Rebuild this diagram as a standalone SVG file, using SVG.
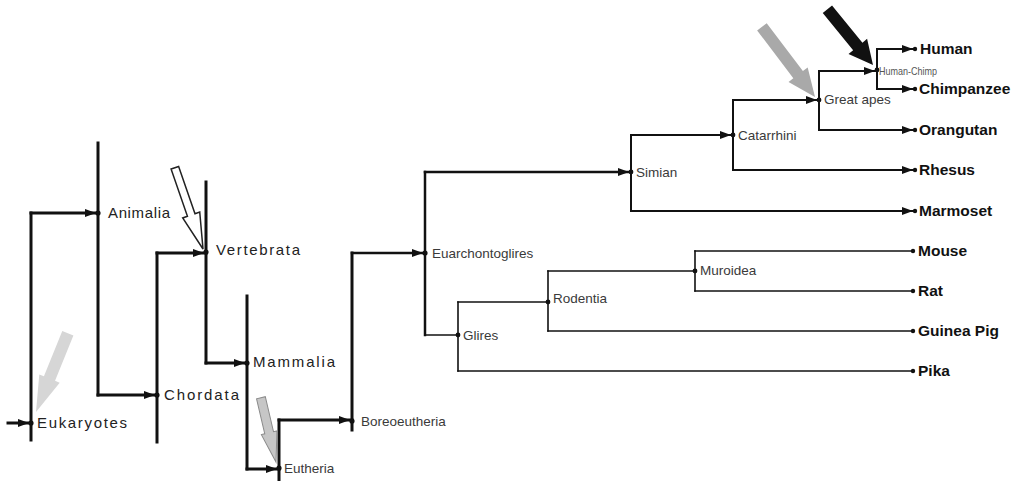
<svg xmlns="http://www.w3.org/2000/svg" width="1019" height="481" viewBox="0 0 1019 481">
<defs>
<marker id="ah" markerUnits="userSpaceOnUse" markerWidth="11" markerHeight="8" viewBox="0 0 11 8" refX="13" refY="4" orient="auto"><path d="M0,0 L11,4 L0,8 z" fill="#111"/></marker>
<style>
.c{fill:none;stroke:#111;stroke-linecap:square}
.w3{stroke-width:3}
.w25{stroke-width:2.5}
.w2{stroke-width:2}
.w15{stroke-width:1.6}
.a{marker-end:url(#ah)}
.dot{fill:#111}
.lt{font-family:"Liberation Sans",Arial,sans-serif;font-size:15px;fill:#222}
.rt{font-family:"Liberation Sans",Arial,sans-serif;font-size:13.5px;fill:#3a3a3a}
.lf{font-family:"Liberation Sans",Arial,sans-serif;font-size:15.5px;font-weight:bold;fill:#111}
</style>
</defs>
<rect width="1019" height="481" fill="#fff"/>

<g id="connectors">
<path class="c w3 a" d="M8,423 H31"/>
<path class="c w3" d="M31,213 V440"/>
<path class="c w3" d="M98,143 V395"/>
<path class="c w3" d="M157,253 V442"/>
<path class="c w3" d="M206,182 V363"/>
<path class="c w3" d="M247,296 V469"/>
<path class="c w3" d="M279,420 V481"/>
<path class="c w3" d="M352,253 V430"/>
<path class="c w25" d="M425,172 V335"/>
<path class="c w15" d="M458,302 V371"/>
<path class="c w15" d="M548,271 V331"/>
<path class="c w15" d="M695,251 V291"/>
<path class="c w2" d="M631,135 V211"/>
<path class="c w2" d="M733,100 V170"/>
<path class="c w2" d="M819,71 V130"/>
<path class="c w2" d="M877,49 V89"/>

<path class="c w3 a" d="M31,213 H98"/>
<path class="c w3 a" d="M98,395 H157"/>
<path class="c w3 a" d="M157,253 H206"/>
<path class="c w3 a" d="M206,363 H247"/>
<path class="c w3 a" d="M247,469 H279"/>
<path class="c w3 a" d="M279,420 H352"/>
<path class="c w25 a" d="M352,253 H425"/>
<path class="c w25 a" d="M425,172 H631"/>
<path class="c w15" d="M425,335 H458"/>
<path class="c w15" d="M458,302 H548"/>
<path class="c w15" d="M458,371 H913"/>
<path class="c w15" d="M548,271 H695"/>
<path class="c w15" d="M548,331 H913"/>
<path class="c w15" d="M695,251 H913"/>
<path class="c w15" d="M695,291 H913"/>
<path class="c w2 a" d="M631,135 H733"/>
<path class="c w2 a" d="M631,211 H915"/>
<path class="c w2 a" d="M733,100 H819"/>
<path class="c w2 a" d="M733,170 H915"/>
<path class="c w2 a" d="M819,71 H877"/>
<path class="c w2 a" d="M819,130 H915"/>
<path class="c w2 a" d="M877,49 H915"/>
<path class="c w2 a" d="M877,89 H915"/>
</g>

<g id="n-eukaryotes"><circle class="dot" cx="31" cy="423" r="2.6"/><text class="lt" x="37" y="428" textLength="90">Eukaryotes</text></g>
<g id="n-animalia"><circle class="dot" cx="98" cy="213" r="2.6"/><text class="lt" x="108" y="218" textLength="62">Animalia</text></g>
<g id="n-chordata"><circle class="dot" cx="157" cy="395" r="2.6"/><text class="lt" x="164" y="400" textLength="75">Chordata</text></g>
<g id="n-vertebrata"><circle class="dot" cx="206" cy="252" r="2.6"/><text class="lt" x="216" y="255" textLength="84">Vertebrata</text></g>
<g id="n-mammalia"><circle class="dot" cx="247" cy="363" r="2.6"/><text class="lt" x="253" y="367" textLength="82">Mammalia</text></g>
<g id="n-eutheria"><circle class="dot" cx="279" cy="468" r="2.6"/><text class="rt" x="284" y="473">Eutheria</text></g>
<g id="n-boreoeutheria"><circle class="dot" cx="352" cy="421" r="2.6"/><text class="rt" x="361" y="426">Boreoeutheria</text></g>
<g id="n-euarchontoglires"><circle class="dot" cx="425" cy="253" r="2.6"/><text class="rt" x="432" y="258">Euarchontoglires</text></g>
<g id="n-glires"><circle class="dot" cx="458" cy="335" r="2.4"/><text class="rt" x="463" y="340">Glires</text></g>
<g id="n-rodentia"><circle class="dot" cx="548" cy="302" r="2.4"/><text class="rt" x="553" y="303">Rodentia</text></g>
<g id="n-muroidea"><circle class="dot" cx="695" cy="271" r="2.4"/><text class="rt" x="700" y="275">Muroidea</text></g>
<g id="n-simian"><circle class="dot" cx="631" cy="172" r="2.4"/><text class="rt" x="636" y="177">Simian</text></g>
<g id="n-catarrhini"><circle class="dot" cx="733" cy="135" r="2.4"/><text class="rt" x="738" y="140">Catarrhini</text></g>
<g id="n-greatapes"><circle class="dot" cx="819" cy="100" r="2.4"/><text class="rt" x="824" y="104">Great apes</text></g>
<g id="n-humanchimp"><circle class="dot" cx="877" cy="70" r="2.4"/><text class="rt" x="879" y="75" style="font-size:11.5px;fill:#555" textLength="58" lengthAdjust="spacingAndGlyphs">Human-Chimp</text></g>

<g id="n-human"><circle class="dot" cx="915" cy="49" r="2.2"/><text class="lf" x="920" y="54">Human</text></g>
<g id="n-chimpanzee"><circle class="dot" cx="915" cy="89" r="2.2"/><text class="lf" x="919" y="94">Chimpanzee</text></g>
<g id="n-orangutan"><circle class="dot" cx="915" cy="130" r="2.2"/><text class="lf" x="919" y="135">Orangutan</text></g>
<g id="n-rhesus"><circle class="dot" cx="915" cy="170" r="2.2"/><text class="lf" x="919" y="175">Rhesus</text></g>
<g id="n-marmoset"><circle class="dot" cx="915" cy="211" r="2.2"/><text class="lf" x="919" y="216">Marmoset</text></g>
<g id="n-mouse"><circle class="dot" cx="913" cy="251" r="2.2"/><text class="lf" x="918" y="256">Mouse</text></g>
<g id="n-rat"><circle class="dot" cx="913" cy="291" r="2.2"/><text class="lf" x="918" y="296">Rat</text></g>
<g id="n-guineapig"><circle class="dot" cx="913" cy="331" r="2.2"/><text class="lf" x="918" y="336">Guinea Pig</text></g>
<g id="n-pika"><circle class="dot" cx="913" cy="371" r="2.2"/><text class="lf" x="918" y="376">Pika</text></g>

<g id="highlights">
<polygon points="-72,-6 -24,-6 -24,-12 0,0 -24,12 -24,6 -72,6" fill="#111" transform="translate(873,65) rotate(50.7)"/>
<polygon points="-88,-6 -28,-6 -28,-12 0,0 -28,12 -28,6 -88,6" fill="#a9a9a9" transform="translate(815,97) rotate(52.9)"/>
<polygon points="-86,-4 -36,-4 -36,-9 0,0 -36,9 -36,4 -86,4" fill="#fff" stroke="#222" stroke-width="1.5" stroke-linejoin="miter" transform="translate(203,249) rotate(70.9)"/>
<polygon points="-85,-6 -36,-6 -36,-11 0,0 -36,11 -36,6 -85,6" fill="#d6d6d6" transform="translate(36,412) rotate(112)"/>
<polygon points="-66,-4.5 -30,-4.5 -30,-8 0,0 -30,8 -30,4.5 -66,4.5" fill="#c6c6c6" stroke="#8a8a8a" stroke-width="1" transform="translate(276,462) rotate(76.8)"/>
</g>
</svg>
